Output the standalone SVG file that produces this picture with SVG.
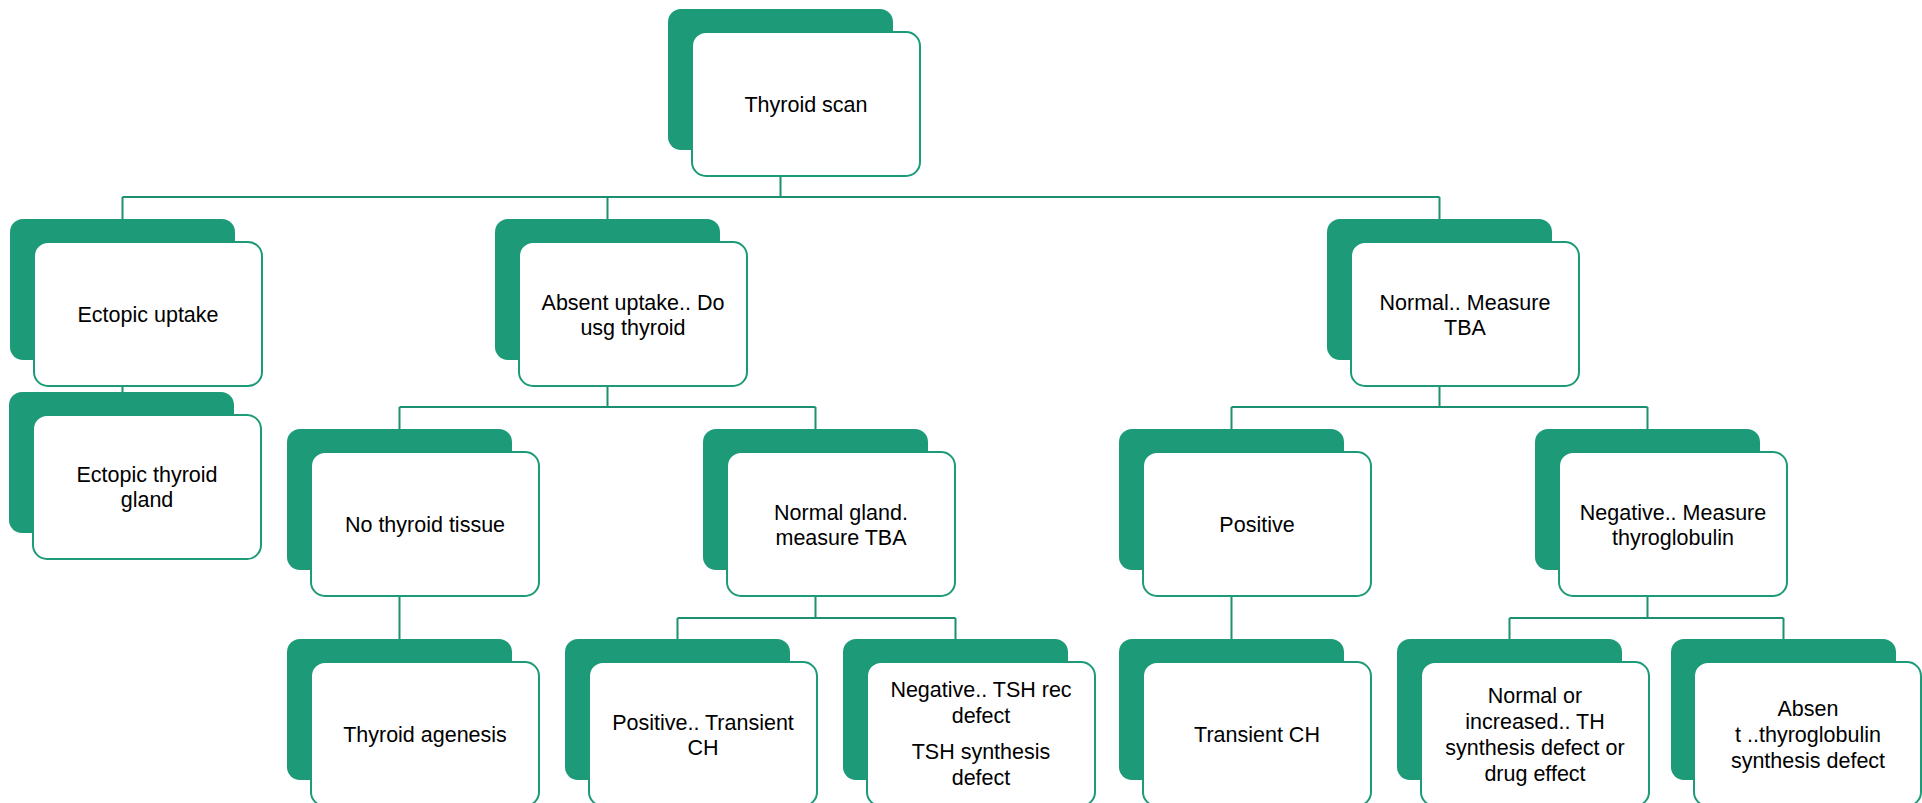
<svg xmlns="http://www.w3.org/2000/svg" width="1922" height="803" viewBox="0 0 1922 803">
<style>
.back{fill:#1D9A78}
.front{fill:#FFFFFF;stroke:#1D9A78;stroke-width:2}
.lbl{font-family:"Liberation Sans",Arial,sans-serif;font-size:21.5px;fill:#000000;text-anchor:middle}
.conn{fill:none;stroke:#1D8F71;stroke-width:2}
</style>
<rect width="1922" height="803" fill="#FFFFFF"/>
<g id="connectors">
<path class="conn" d="M780.5,176V197M122.5,197H1439.5M122.5,197V219M607.5,197V219M1439.5,197V219"/>
<path class="conn" d="M122.5,386V392"/>
<path class="conn" d="M607.5,386V407M399.5,407H815.5M399.5,407V429M815.5,407V429"/>
<path class="conn" d="M399.5,596V639"/>
<path class="conn" d="M815.5,596V618M677.5,618H955.5M677.5,618V639M955.5,618V639"/>
<path class="conn" d="M1439.5,386V407M1231.5,407H1647.5M1231.5,407V429M1647.5,407V429"/>
<path class="conn" d="M1231.5,596V639"/>
<path class="conn" d="M1647.5,596V618M1509.5,618H1783.5M1509.5,618V639M1783.5,618V639"/>
</g>
<g id="n-thyroid-scan">
<rect class="back" x="668" y="9" width="225" height="141" rx="13"/>
<rect class="front" x="692" y="32" width="228" height="144" rx="14"/>
<text class="lbl" x="806" y="112">Thyroid scan</text>
</g>
<g id="n-ectopic-uptake">
<rect class="back" x="10" y="219" width="225" height="141" rx="13"/>
<rect class="front" x="34" y="242" width="228" height="144" rx="14"/>
<text class="lbl" x="148" y="322">Ectopic uptake</text>
</g>
<g id="n-ectopic-gland">
<rect class="back" x="9" y="392" width="225" height="141" rx="13"/>
<rect class="front" x="33" y="415" width="228" height="144" rx="14"/>
<text class="lbl" x="147" y="482">Ectopic thyroid</text>
<text class="lbl" x="147" y="507">gland</text>
</g>
<g id="n-absent-uptake">
<rect class="back" x="495" y="219" width="225" height="141" rx="13"/>
<rect class="front" x="519" y="242" width="228" height="144" rx="14"/>
<text class="lbl" x="633" y="310">Absent uptake.. Do</text>
<text class="lbl" x="633" y="335">usg thyroid</text>
</g>
<g id="n-normal-measure-tba">
<rect class="back" x="1327" y="219" width="225" height="141" rx="13"/>
<rect class="front" x="1351" y="242" width="228" height="144" rx="14"/>
<text class="lbl" x="1465" y="310">Normal.. Measure</text>
<text class="lbl" x="1465" y="335">TBA</text>
</g>
<g id="n-no-thyroid-tissue">
<rect class="back" x="287" y="429" width="225" height="141" rx="13"/>
<rect class="front" x="311" y="452" width="228" height="144" rx="14"/>
<text class="lbl" x="425" y="532">No thyroid tissue</text>
</g>
<g id="n-normal-gland">
<rect class="back" x="703" y="429" width="225" height="141" rx="13"/>
<rect class="front" x="727" y="452" width="228" height="144" rx="14"/>
<text class="lbl" x="841" y="520">Normal gland.</text>
<text class="lbl" x="841" y="545">measure TBA</text>
</g>
<g id="n-positive">
<rect class="back" x="1119" y="429" width="225" height="141" rx="13"/>
<rect class="front" x="1143" y="452" width="228" height="144" rx="14"/>
<text class="lbl" x="1257" y="532">Positive</text>
</g>
<g id="n-negative-thyroglobulin">
<rect class="back" x="1535" y="429" width="225" height="141" rx="13"/>
<rect class="front" x="1559" y="452" width="228" height="144" rx="14"/>
<text class="lbl" x="1673" y="520">Negative.. Measure</text>
<text class="lbl" x="1673" y="545">thyroglobulin</text>
</g>
<g id="n-thyroid-agenesis">
<rect class="back" x="287" y="639" width="225" height="141" rx="13"/>
<rect class="front" x="311" y="662" width="228" height="144" rx="14"/>
<text class="lbl" x="425" y="742">Thyroid agenesis</text>
</g>
<g id="n-positive-transient">
<rect class="back" x="565" y="639" width="225" height="141" rx="13"/>
<rect class="front" x="589" y="662" width="228" height="144" rx="14"/>
<text class="lbl" x="703" y="730">Positive.. Transient</text>
<text class="lbl" x="703" y="755">CH</text>
</g>
<g id="n-negative-tsh">
<rect class="back" x="843" y="639" width="225" height="141" rx="13"/>
<rect class="front" x="867" y="662" width="228" height="144" rx="14"/>
<text class="lbl" x="981" y="697">Negative.. TSH rec</text>
<text class="lbl" x="981" y="723">defect</text>
<text class="lbl" x="981" y="759">TSH synthesis</text>
<text class="lbl" x="981" y="785">defect</text>
</g>
<g id="n-transient-ch">
<rect class="back" x="1119" y="639" width="225" height="141" rx="13"/>
<rect class="front" x="1143" y="662" width="228" height="144" rx="14"/>
<text class="lbl" x="1257" y="742">Transient CH</text>
</g>
<g id="n-normal-increased">
<rect class="back" x="1397" y="639" width="225" height="141" rx="13"/>
<rect class="front" x="1421" y="662" width="228" height="144" rx="14"/>
<text class="lbl" x="1535" y="703">Normal or</text>
<text class="lbl" x="1535" y="729">increased.. TH</text>
<text class="lbl" x="1535" y="755">synthesis defect or</text>
<text class="lbl" x="1535" y="781">drug effect</text>
</g>
<g id="n-absent-thyroglobulin">
<rect class="back" x="1671" y="639" width="225" height="141" rx="13"/>
<rect class="front" x="1694" y="662" width="227" height="144" rx="14"/>
<text class="lbl" x="1808" y="716">Absen</text>
<text class="lbl" x="1808" y="742">t ..thyroglobulin</text>
<text class="lbl" x="1808" y="768">synthesis defect</text>
</g>
</svg>
